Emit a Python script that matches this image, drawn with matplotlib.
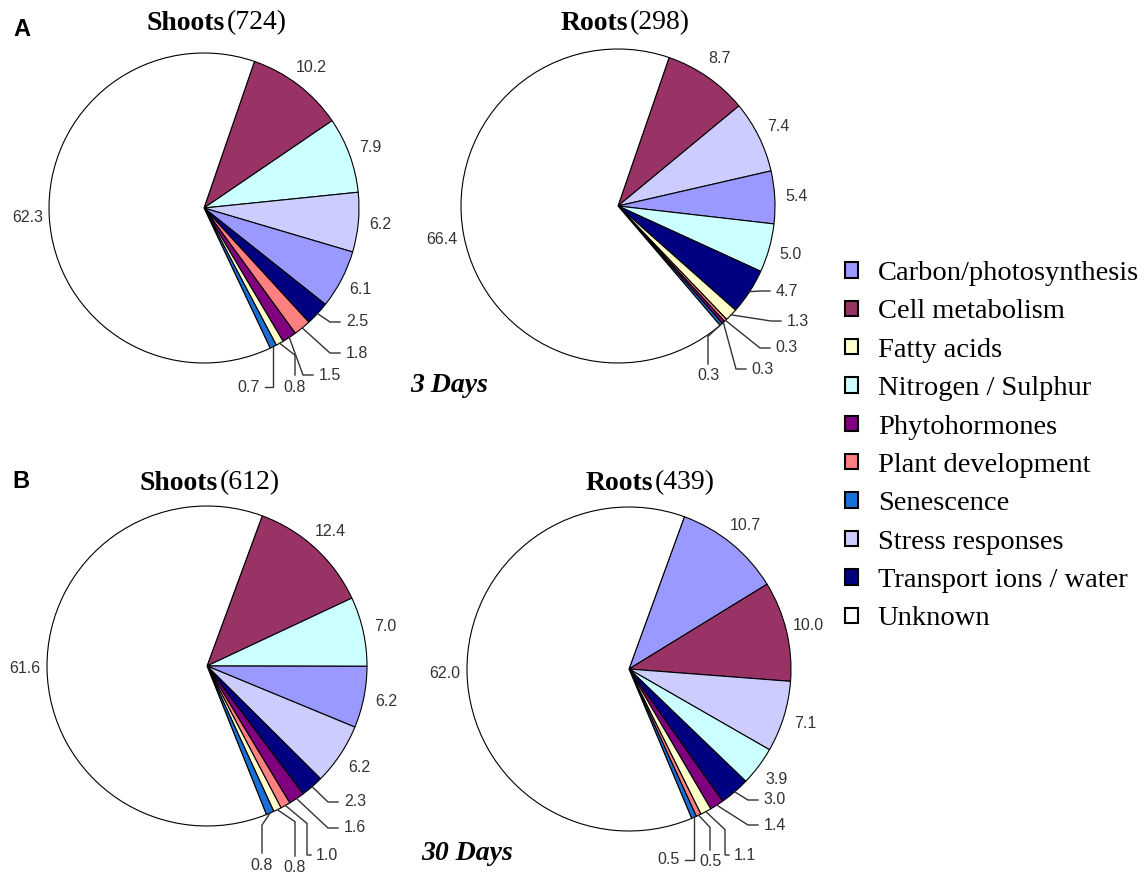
import numpy as np
import matplotlib.pyplot as plt
from matplotlib.patches import Patch

W, H = 1148, 876

categories = ['Carbon/photosynthesis', 'Cell metabolism', 'Fatty acids',
              'Nitrogen / Sulphur', 'Phytohormones', 'Plant development',
              'Senescence', 'Stress responses', 'Transport ions / water',
              'Unknown']
colours = {'Carbon/photosynthesis': '#9999ff',
           'Cell metabolism': '#993366',
           'Fatty acids': '#ffffcc',
           'Nitrogen / Sulphur': '#ccffff',
           'Phytohormones': '#800080',
           'Plant development': '#ff8080',
           'Senescence': '#1a6fd8',
           'Stress responses': '#ccccff',
           'Transport ions / water': '#000080',
           'Unknown': '#ffffff'}

# slices in clockwise order, percentages of regulated genes
shoots_3d_cats = ['Cell metabolism', 'Nitrogen / Sulphur', 'Stress responses',
                  'Carbon/photosynthesis', 'Transport ions / water',
                  'Plant development', 'Phytohormones', 'Fatty acids',
                  'Senescence', 'Unknown']
shoots_3d_vals = [10.2, 7.9, 6.2, 6.1, 2.5, 1.8, 1.5, 0.8, 0.7, 62.3]

roots_3d_cats = ['Cell metabolism', 'Stress responses', 'Carbon/photosynthesis',
                 'Nitrogen / Sulphur', 'Transport ions / water', 'Fatty acids',
                 'Plant development', 'Phytohormones', 'Senescence', 'Unknown']
roots_3d_vals = [8.7, 7.4, 5.4, 5.0, 4.7, 1.3, 0.3, 0.3, 0.3, 66.4]

shoots_30d_cats = ['Cell metabolism', 'Nitrogen / Sulphur', 'Carbon/photosynthesis',
                   'Stress responses', 'Transport ions / water', 'Phytohormones',
                   'Plant development', 'Fatty acids', 'Senescence', 'Unknown']
shoots_30d_vals = [12.4, 7.0, 6.2, 6.2, 2.3, 1.6, 1.0, 0.8, 0.8, 61.6]

roots_30d_cats = ['Carbon/photosynthesis', 'Cell metabolism', 'Stress responses',
                  'Nitrogen / Sulphur', 'Transport ions / water', 'Phytohormones',
                  'Fatty acids', 'Plant development', 'Senescence', 'Unknown']
roots_30d_vals = [10.7, 10.0, 7.1, 3.9, 3.0, 1.4, 1.1, 0.5, 0.5, 62.0]

tissues = ['Shoots', 'Roots', 'Shoots', 'Roots']
gene_counts = [724, 298, 612, 439]

# layout in pixels (y downwards): centre, radius, start angle, title split,
# and leader-line labels {slice index: (text x, text y, style)}
pies = [
    dict(cats=shoots_3d_cats, vals=shoots_3d_vals, c=(204, 208), r=155, start=71,
         title=(225, 23),
         lead={4: (357, 322, 'h'), 5: (357, 353, 'h'), 6: (330, 375, 'h'),
               7: (295, 387, 'v'), 8: (248, 387, 'vl')}),
    dict(cats=roots_3d_cats, vals=roots_3d_vals, c=(618, 206), r=157, start=71,
         title=(628, 23),
         lead={4: (787, 291, 'h'), 5: (798, 321, 'h'), 6: (787, 348, 'h'),
               7: (763, 369, 'h'), 8: (708, 376, 'v')}),
    dict(cats=shoots_30d_cats, vals=shoots_30d_vals, c=(207, 666), r=160, start=69.8,
         title=(218, 483),
         lead={4: (355, 802, 'h'), 5: (355, 828, 'h'), 6: (327, 855, 'vh'),
               7: (295, 868, 'v'), 8: (262, 865, 'v')}),
    dict(cats=roots_30d_cats, vals=roots_30d_vals, c=(629, 669), r=162, start=70,
         title=(653, 483),
         lead={4: (775, 800, 'h'), 5: (775, 825, 'h'), 6: (745, 855, 'vh'),
               7: (710, 862, 'v'), 8: (668, 860, 'vl')}),
]

serif = 'Liberation Serif'
sans = 'Liberation Sans'
lab_kw = dict(fontsize=11.5, family=sans, color='#333333', ha='center', va='center')

fig = plt.figure(figsize=(W / 100, H / 100), dpi=100)
ax = fig.add_axes([0, 0, 1, 1])


def line(pts):
    xs = [p[0] for p in pts]
    ys = [H - p[1] for p in pts]
    ax.plot(xs, ys, color='#333333', lw=1.0, solid_joinstyle='miter')


for i, p in enumerate(pies):
    cx, cy = p['c']
    wedges, _ = ax.pie(p['vals'], colors=[colours[k] for k in p['cats']],
                       startangle=p['start'], counterclock=False,
                       center=(cx, H - cy), radius=p['r'],
                       wedgeprops=dict(edgecolor='black', linewidth=0.8))
    for j, (w, v) in enumerate(zip(wedges, p['vals'])):
        mid = np.deg2rad((w.theta1 + w.theta2) / 2)
        txt = f'{v:.1f}'
        if j in p['lead']:
            tx, ty, style = p['lead'][j]
            ex = cx + p['r'] * np.cos(mid)
            ey = cy - p['r'] * np.sin(mid)
            hw = 15
            if style == 'h':
                line([(ex, ey), (tx - hw - 12, ty), (tx - hw - 2, ty)])
            elif style == 'v':
                line([(ex, ey), (tx, ey + 12), (tx, ty - 12)])
            elif style == 'vh':
                xv = tx - hw - 5
                line([(ex, ey), (xv, ey + 18), (xv, ty), (tx - hw - 1, ty)])
            else:
                line([(ex, ey), (ex, ty), (tx + hw + 2, ty)])
            ax.text(tx, H - ty, txt, **lab_kw)
        else:
            d = 1.14 * p['r']
            ax.text(cx + d * np.cos(mid), H - cy + d * np.sin(mid), txt, **lab_kw)

    sx, sy = p['title']
    ax.text(sx, H - sy, tissues[i], family=serif, fontsize=20, weight='bold',
            ha='right', va='center')
    ax.text(sx + 2, H - sy, f'({gene_counts[i]})', family=serif, fontsize=20,
            ha='left', va='center')

ax.text(22, H - 29, 'A', family=sans, fontsize=17, weight='bold', ha='center', va='center')
ax.text(21, H - 481, 'B', family=sans, fontsize=17, weight='bold', ha='center', va='center')
ax.text(449, H - 386, '3 Days', family=serif, fontsize=20, weight='bold', style='italic',
        ha='center', va='center')
ax.text(467, H - 853, '30 Days', family=serif, fontsize=20, weight='bold', style='italic',
        ha='center', va='center')

handles = [Patch(facecolor=colours[k], edgecolor='black', linewidth=1.5) for k in categories]
fig.legend(handles, categories, loc='upper left', bbox_to_anchor=(845 / W, 1 - 261 / H),
           frameon=False, prop=dict(family=serif, size=20.5), handlelength=0.45,
           handleheight=0.45, handletextpad=0.7, labelspacing=0.47,
           borderpad=0, borderaxespad=0)

ax.set_xlim(0, W)
ax.set_ylim(0, H)
ax.set_aspect('equal')
ax.axis('off')

fig.savefig('out.png', dpi=100)
